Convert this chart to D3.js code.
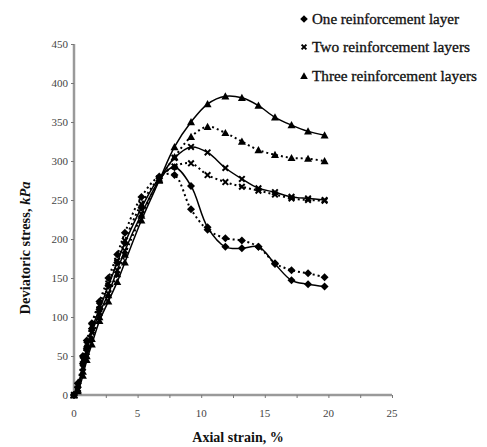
<!DOCTYPE html>
<html><head><meta charset="utf-8">
<script src="https://cdn.jsdelivr.net/npm/d3@7"></script>
<style>body{margin:0;background:#fff}svg{display:block}</style>
</head><body>
<script>
const strain = [0, 0.3, 0.7, 1.0, 1.4, 2.0, 2.7, 3.4, 4.0, 5.3, 6.7, 7.9, 9.2, 10.5, 11.9, 13.2, 14.5, 15.8, 17.1, 18.4, 19.7];
const oneSolid   = [0, 10, 40, 60, 85, 110, 140, 170, 195, 240, 278, 292, 268, 215, 190, 188, 190, 168, 147, 142, 139];
const oneDotted  = [0, 15, 50, 70, 92, 120, 150, 180, 208, 254, 280, 282, 238, 212, 201, 198, 190, 169, 160, 156, 151];
const twoSolid   = [0, 8, 35, 55, 80, 105, 130, 160, 185, 232, 276, 304, 318, 311, 291, 277, 265, 260, 254, 252, 250];
const twoDotted  = [0, 12, 45, 65, 88, 115, 143, 172, 198, 245, 278, 293, 297, 282, 273, 267, 262, 257, 252, 250, 249];
const threeSolid = [0, 5, 25, 45, 65, 95, 120, 145, 170, 224, 275, 318, 350, 373, 383, 381, 371, 356, 346, 338, 333];
const threeDotted= [0, 7, 30, 50, 72, 100, 128, 155, 180, 230, 276, 305, 331, 344, 336, 325, 314, 308, 304, 303, 300];
const xTicks = [0, 5, 10, 15, 20, 25];
const yTicks = [0, 50, 100, 150, 200, 250, 300, 350, 400, 450];
const legendLabels = ["One reinforcement layer", "Two reinforcement layers", "Three reinforcement layers"];

const series = [
  {v: oneSolid, m: "diamond", dash: null},
  {v: oneDotted, m: "diamond", dash: "2,3"},
  {v: twoSolid, m: "cross", dash: null},
  {v: twoDotted, m: "cross", dash: "2,3"},
  {v: threeSolid, m: "triangle", dash: null},
  {v: threeDotted, m: "triangle", dash: "2,3"}
];

const W = 487, H = 447;
const svg = d3.select("body").append("svg").attr("width", W).attr("height", H);
const x = d3.scaleLinear().domain([0, 25]).range([74, 392]);
const y = d3.scaleLinear().domain([0, 450]).range([395, 44]);

// axes
const axisColor = "#9a9a9a";
const xAxis = svg.append("g").attr("transform", "translate(0,395)")
  .call(d3.axisBottom(x).tickValues(d3.range(0, 25.01, 2.5)).tickSize(3).tickFormat(""));
xAxis.select(".domain").attr("stroke", axisColor).attr("stroke-width", 2.5).attr("d", `M${x(0)},0H${x(25)}`);
xAxis.selectAll(".tick line").attr("stroke", "#777").attr("stroke-width", 1);
const yAxis = svg.append("g").attr("transform", "translate(74,0)")
  .call(d3.axisLeft(y).tickValues(yTicks).tickSize(3).tickFormat(""));
yAxis.select(".domain").attr("stroke", axisColor).attr("stroke-width", 2.5).attr("d", `M0,${y(0)}V${y(450)}`);
yAxis.selectAll(".tick line").attr("stroke", "#777").attr("stroke-width", 1);

const tickFont = "'Liberation Serif', serif";
svg.append("g").selectAll("text").data(xTicks).join("text")
  .attr("x", d => x(d)).attr("y", 417).attr("text-anchor", "middle")
  .attr("font-family", tickFont).attr("font-size", 11).attr("fill", "#444").text(d => d);
svg.append("g").selectAll("text").data(yTicks).join("text")
  .attr("x", 68).attr("y", d => y(d) + 4).attr("text-anchor", "end")
  .attr("font-family", tickFont).attr("font-size", 11).attr("fill", "#444").text(d => d);

// titles
svg.append("text").attr("x", 238).attr("y", 442).attr("text-anchor", "middle")
  .attr("font-family", tickFont).attr("font-size", 14).attr("font-weight", "bold").attr("fill", "#111")
  .text("Axial strain, %");
const yt = svg.append("text").attr("transform", "translate(30,248) rotate(-90)").attr("text-anchor", "middle")
  .attr("font-family", tickFont).attr("font-size", 14.5).attr("font-weight", "bold").attr("fill", "#111");
yt.append("tspan").text("Deviatoric stress, ");
yt.append("tspan").attr("font-style", "italic").text("kPa");

// markers
function marker(g, type, cx, cy, s) {
  if (type === "diamond") {
    g.append("path").attr("d", `M${cx},${cy - s}L${cx + s},${cy}L${cx},${cy + s}L${cx - s},${cy}Z`).attr("fill", "#000");
  } else if (type === "triangle") {
    g.append("path").attr("d", `M${cx},${cy - s}L${cx + s},${cy + s * 0.8}L${cx - s},${cy + s * 0.8}Z`).attr("fill", "#000");
  } else {
    const k = s * 0.8;
    g.append("path").attr("d", `M${cx - k},${cy - k}L${cx + k},${cy + k}M${cx + k},${cy - k}L${cx - k},${cy + k}`)
      .attr("stroke", "#000").attr("stroke-width", 2).attr("fill", "none");
  }
}

const line = d3.line().x(d => x(d[0])).y(d => y(d[1])).curve(d3.curveCatmullRom.alpha(0.5));
const plot = svg.append("g");
series.forEach(s => {
  const pts = strain.map((xv, i) => [xv, s.v[i]]);
  plot.append("path").datum(pts).attr("d", line).attr("fill", "none").attr("stroke", "#000")
    .attr("stroke-width", s.dash ? 2 : 1.5).attr("stroke-dasharray", s.dash);
  const mg = plot.append("g");
  pts.forEach(p => marker(mg, s.m, x(p[0]), y(p[1]), s.m === "cross" ? 3.5 : 4));
});

// legend
const legTypes = ["diamond", "cross", "triangle"];
const legY = [19, 47, 76];
const legW = [147, 158, 165];
legendLabels.forEach((lab, i) => {
  const g = svg.append("g");
  marker(g, legTypes[i], 304, legY[i], legTypes[i] === "cross" ? 3 : 3.8);
  g.append("text").attr("x", 312).attr("y", legY[i] + 5).attr("font-family", tickFont)
    .attr("font-size", 14).attr("fill", "#111").attr("stroke", "#111").attr("stroke-width", 0.3)
    .attr("textLength", legW[i]).attr("lengthAdjust", "spacingAndGlyphs")
    .text(lab);
});
</script>
</body></html>
